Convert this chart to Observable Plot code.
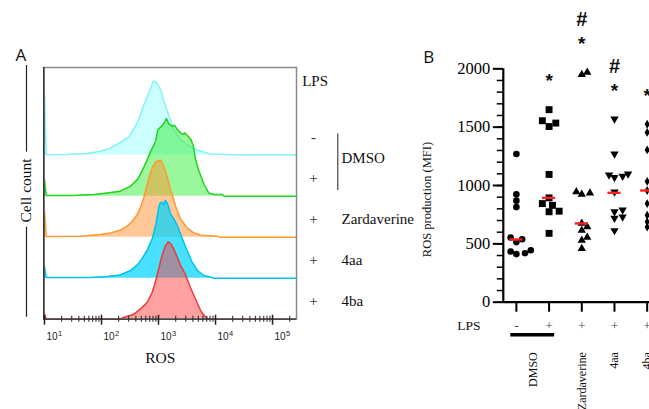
<!DOCTYPE html>
<html><head><meta charset="utf-8">
<script src="https://cdn.jsdelivr.net/npm/d3@7"></script>
<script src="https://cdn.jsdelivr.net/npm/@observablehq/plot@0.6"></script>
<style>
html,body{margin:0;padding:0;background:#fff;overflow:hidden}
#wrap{position:relative;width:649px;height:409px;overflow:hidden;background:#fff}
#wrap svg{position:absolute;top:0}
</style></head><body><div id="wrap"></div>
<script>
// ---------------- Panel A data: log10(ROS) vs relative cell count ----------------
const sampleNames = ["DMSO -LPS", "DMSO +LPS", "Zardaverine", "4aa", "4ba"];
const lpsSigns = ["-", "+", "+", "+", "+"];
const sampleTreatment = ["DMSO", "DMSO", "Zardaverine", "4aa", "4ba"];

const cyanLog   = [0.99,1.0,1.03,1.4,1.75,1.98,2.16,2.33,2.48,2.57,2.66,2.74,2.80,2.86,2.91,2.98,3.04,3.09,3.15,3.21,3.27,3.39,3.56,3.74,3.91,4.2,4.44,5.42];
const cyanCount = [0,61,0.5,0.7,1.7,4,7.3,12.7,18.3,26.7,36.7,50,58.3,66.7,74.3,71.7,65,55,45,35,25,15,8.3,4,1.3,0.7,0.3,0.3];

const greenLog   = [0.99,1.0,1.03,1.52,1.87,2.10,2.33,2.51,2.63,2.71,2.79,2.86,2.95,2.99,3.06,3.11,3.14,3.18,3.24,3.28,3.33,3.39,3.43,3.46,3.50,3.57,3.61,3.65,3.71,3.80,3.88,3.97,4.12,4.15,5.42];
const greenCount = [0,16.7,0.7,0.7,1.7,3.3,5,10,16.7,25,35,44.3,55,66.7,70,74.3,77.7,72.3,70,71,66.7,63.3,61.7,63.3,61,56.7,50,36.7,25,11.7,3.3,1.7,1.7,0,0];

const orangeLog   = [0.99,1.0,1.03,1.63,1.98,2.16,2.33,2.45,2.54,2.63,2.68,2.74,2.80,2.89,2.95,3.04,3.08,3.14,3.21,3.24,3.30,3.39,3.50,3.62,3.74,4.03,4.09,5.42];
const orangeCount = [0,26,0.7,1,2.7,4.3,7,11,16,22.7,29.3,39,52.7,69.4,75.4,77,72.7,62.7,47,43,31,17.7,9.4,4.4,2,1,0,0];

const blueLog   = [0.99,1.0,1.03,1.81,2.10,2.33,2.51,2.63,2.71,2.80,2.89,2.95,2.99,3.02,3.06,3.09,3.12,3.16,3.21,3.27,3.33,3.42,3.50,3.59,3.68,3.80,3.94,3.97,5.42];
const blueCount = [0,12,0.7,0.7,1.7,3.3,7.7,13.3,19.3,27.7,39.3,52.7,66,74.3,76,73.3,77.7,74.3,64.3,59.3,52.7,39.3,27.7,16,7.7,2.7,0.7,0,0];

const redLog   = [0.99,1.0,1.03,2.33,2.39,2.57,2.68,2.80,2.89,2.95,3.01,3.06,3.12,3.17,3.22,3.27,3.33,3.39,3.47,3.56,3.65,3.74,3.83,3.88,5.42];
const redCount = [0,5,0.3,0.3,1.7,5,10,16.7,26.7,38.3,51.7,63.3,73.3,77.3,75,70,61.7,53.3,45,31.7,20,8.3,1.7,0,0];

const decades = [1, 2, 3, 4, 5];

// ---------------- Panel B data: ROS production (MFI) ----------------
const groupLps = ["-", "+", "+", "+", "+"];
const treatments = ["DMSO", "Zardaverine", "4aa", "4ba"];
const treatmentGroups = [[0, 1], [2], [3], [4]];
const rosDmsoNoLps = [1270, 925, 870, 815, 555, 540, 515, 445, 435, 420, 412];
const rosDmsoLps   = [1650, 1555, 1535, 1505, 1095, 894, 845, 830, 780, 775, 590];
const rosZard      = [1970, 1950, 945, 935, 925, 675, 645, 615, 555, 530, 460];
const ros4aa       = [1570, 1270, 1100, 1090, 1080, 1070, 945, 790, 775, 730, 720, 614];
const ros4ba       = [1525, 1455, 1305, 1035, 957, 845, 745, 690, 670, 645];
const medians      = [537, 894, 675, 937, 957];
const annotGroup = [1, 2, 2, 3, 3, 4];
const annotText  = ["*", "*", "#", "*", "#", "*"];
const annotValue = [1943, 2260, 2414, 1857, 2014, 1814];

// ---------------- styles ----------------
const SERIF = "'Liberation Serif','Times New Roman',serif";
const SANS = "'Liberation Sans',Arial,sans-serif";
const LETTER = "'Open Sans','Noto Sans',sans-serif";
const wrap = document.getElementById("wrap");

// ================= Panel A =================
const tracks = [
  {log: cyanLog,   count: cyanCount,   stroke: "#86f4f4", fill: "#00ffff", op: 0.2},
  {log: greenLog,  count: greenCount,  stroke: "#1fd51f", fill: "#2bee2b", op: 0.47},
  {log: orangeLog, count: orangeCount, stroke: "#ff9a33", fill: "#ff912d", op: 0.5},
  {log: blueLog,   count: blueCount,   stroke: "#00c2ef", fill: "#00d4ff", op: 0.72},
  {log: redLog,    count: redCount,    stroke: "#ef3b3b", fill: "#ff3a3a", op: 0.48}
];
const STEP = 41;
const XMIN = 0.988, XMAX = 5.42;
const offsetOf = i => (tracks.length - 1 - i) * STEP;

const histMarks = [];
tracks.forEach((t, i) => {
  const off = offsetOf(i);
  const rows = t.log.map((x, j) => ({x, y1: off, y2: off + t.count[j]}));
  histMarks.push(Plot.areaY(rows, {x: "x", y1: "y1", y2: "y2", fill: t.fill, fillOpacity: t.op}));
  histMarks.push(Plot.lineY(rows, {x: "x", y: "y2", stroke: t.stroke, strokeWidth: 1.5}));
});

const minor = [];
for (let n = 0; n <= 5; n++) for (let k = 2; k <= 9; k++) {
  const v = n + Math.log10(k);
  if (v > XMIN && v < XMAX) minor.push(v);
}

const legendRows = sampleNames.map((s, i) => ({i, y: offsetOf(i) + 18, sign: lpsSigns[i], treat: sampleTreatment[i]}));

const chartA = Plot.plot({
  width: 420, height: 409,
  marginLeft: 43.3, marginRight: 420 - 296, marginTop: 67, marginBottom: 90.3,
  x: {domain: [XMIN, XMAX], axis: null},
  y: {domain: [0, 251.7], axis: null},
  style: {background: "transparent", overflow: "visible"},
  marks: [
    ...histMarks,
    Plot.frame({stroke: "#8a8a8a", strokeWidth: 1.5}),
    Plot.ruleX([XMIN], {stroke: "#333", strokeWidth: 1.5}),
    Plot.ruleY([0], {stroke: "#333", strokeWidth: 1.2}),
    Plot.ruleX(minor, {y1: -3, y2: 3, stroke: "#333", strokeWidth: 1.1}),
    Plot.ruleX(decades, {y1: -6, y2: 4, stroke: "#222", strokeWidth: 1.5}),
    Plot.text(decades, {x: d => d, y: 0, text: () => "10", dy: 18, dx: 2, textAnchor: "start", fontSize: 10, fontFamily: SANS, fill: "#222"}),
    Plot.text(decades, {x: d => d, y: 0, text: d => String(d), dy: 14, dx: 13.5, textAnchor: "start", fontSize: 7.5, fontFamily: SANS, fill: "#222"}),
    Plot.text(["ROS"], {x: 3.03, y: 0, dy: 39.3, fontSize: 15.5, fontFamily: SERIF, fill: "#111"}),
    // Cell count label with lines
    Plot.text(["Cell count"], {x: XMIN, y: 128.7, dx: -17.3, rotate: -90, fontSize: 15.5, fontFamily: SERIF, fill: "#111"}),
    Plot.ruleX([XMIN], {y1: 167, y2: 253.7, dx: -17.3, stroke: "#222", strokeWidth: 1.2}),
    Plot.ruleX([XMIN], {y1: 2, y2: 92, dx: -17.3, stroke: "#222", strokeWidth: 1.2}),
    // right-hand legend
    Plot.text(["LPS"], {x: XMAX, y: 238, dx: 5.7, textAnchor: "start", fontSize: 15, fontFamily: SERIF, fill: "#111"}),
    Plot.text(legendRows, {x: XMAX, y: "y", text: "sign", dx: 17, fontSize: 15, fontFamily: SERIF, fill: "#333"}),
    Plot.text(legendRows.filter(d => d.treat !== "DMSO"), {x: XMAX, y: "y", text: "treat", dx: 45, textAnchor: "start", fontSize: 15, fontFamily: SERIF, fill: "#111"}),
    Plot.text(["DMSO"], {x: XMAX, y: (offsetOf(0) + offsetOf(1)) / 2 + 18, dx: 45, textAnchor: "start", fontSize: 15, fontFamily: SERIF, fill: "#111"}),
    Plot.ruleX([XMAX], {y1: offsetOf(1) + 5.7, y2: offsetOf(0) + 21.4, dx: 41.3, stroke: "#333", strokeWidth: 1.1}),
    Plot.text(["A"], {frameAnchor: "top-left", dx: -23, dy: -12, textAnchor: "middle", lineAnchor: "middle", fontSize: 17, fontFamily: LETTER, fill: "#111"})
  ]
});
chartA.style.left = "0px";
wrap.appendChild(chartA);

// ================= Panel B =================
const groupsData = [rosDmsoNoLps, rosDmsoLps, rosZard, ros4aa, ros4ba];
const symbols = ["circle", "square", "triangle", "triangle", "diamond"];
const rotations = [0, 0, 0, 180, 0];
const radii = [3.3, 3.9, 3.1, 3.1, 2.7];

const BW = 280, BML = 102.8, XB0 = -0.4, PXU = 32.7;
const XB1 = XB0 + (BW - BML) / PXU;
const yPx = d3.scaleLinear([0, 2000], [301.7, 68.3]);

function dodge(values, r) {
  const placed = [];
  const offs = new Array(values.length);
  const order = values.map((v, i) => i).sort((a, b) => values[a] - values[b]);
  for (const i of order) {
    const y = yPx(values[i]);
    let best = 0;
    for (let k = 0; k < 30; k++) {
      const cand = k === 0 ? 0 : (k % 2 ? 1 : -1) * Math.ceil(k / 2) * r * 0.8;
      if (placed.every(p => Math.hypot(p.x - cand, p.y - y) >= 2 * r * 0.85)) { best = cand; break; }
    }
    placed.push({x: best, y});
    offs[i] = best;
  }
  return offs;
}

const dotMarks = groupsData.map((vals, g) => {
  const offs = dodge(vals, radii[g] + 0.3);
  const rows = vals.map((v, j) => ({x: g + offs[j] / PXU, v}));
  return Plot.dot(rows, {x: "x", y: "v", symbol: symbols[g], r: radii[g], rotate: rotations[g], fill: "#000", stroke: "none"});
});

const medianRows = medians.map((m, g) => ({g, m}));
const annotRows = annotText.map((t, i) => ({g: annotGroup[i], v: annotValue[i], t}));
const treatRows = treatments.map((t, i) => ({t, x: d3.mean(treatmentGroups[i])}));

const chartB = Plot.plot({
  width: BW, height: 409,
  marginLeft: BML, marginRight: 0, marginTop: 68.3, marginBottom: 107.3,
  x: {domain: [XB0, XB1], axis: null},
  y: {domain: [0, 2000]},
  style: {background: "transparent", overflow: "visible"},
  marks: [
    Plot.axisY(d3.range(0, 2001, 100), {tickSize: 6, tickFormat: () => "", strokeWidth: 1.5, label: null}),
    Plot.axisY([0, 500, 1000, 1500, 2000], {tickSize: 10, tickPadding: 3, fontSize: 16.5, fontFamily: SERIF, strokeWidth: 2, label: null, tickFormat: d => String(d)}),
    Plot.axisX([0, 1, 2, 3, 4], {tickSize: 10, tickFormat: () => "", strokeWidth: 2, label: null}),
    Plot.ruleX([XB0], {y1: 0, y2: 2000, stroke: "#000", strokeWidth: 2.2}),
    Plot.ruleY([0], {stroke: "#000", strokeWidth: 2.2}),
    ...dotMarks,
    Plot.ruleY(medianRows, {y: "m", x1: d => d.g - 0.2, x2: d => d.g + 0.2, stroke: "#ff2020", strokeWidth: 2.4}),
    Plot.text(annotRows.filter(d => d.t === "*"), {x: "g", y: "v", text: "t", dy: 5, fontSize: 19, fontWeight: "bold", fontFamily: SANS, fill: "#111"}),
    Plot.text(annotRows.filter(d => d.t === "#"), {x: "g", y: "v", text: "t", dy: -1, fontSize: 20, fontWeight: "bold", fontFamily: SANS, fill: "#111"}),
    Plot.text(["ROS production (MFI)"], {x: XB0, y: 880, dx: -76.2, rotate: -90, fontSize: 12.5, fontFamily: SERIF, fill: "#111"}),
    Plot.text(["LPS"], {x: XB0, y: 0, dx: -46, dy: 23.3, textAnchor: "start", fontSize: 13.5, fontFamily: SERIF, fill: "#111"}),
    Plot.text(groupLps, {x: (d, i) => i, y: 0, text: d => d, dy: 23.3, fontSize: 13.5, fontFamily: SERIF, fill: "#444"}),
    Plot.ruleY([0], {x1: treatmentGroups[0][0] - 0.17, x2: treatmentGroups[0][1] + 0.17, dy: 32.6, stroke: "#000", strokeWidth: 3.5}),
    Plot.text(treatRows, {x: "x", y: 0, text: "t", dy: 50, rotate: -90, textAnchor: "end", fontSize: 12, fontFamily: SERIF, fill: "#111"}),
    Plot.text(["B"], {frameAnchor: "top-left", dx: -74.5, dy: -11.6, textAnchor: "middle", lineAnchor: "middle", fontSize: 17, fontFamily: LETTER, fill: "#111"})
  ]
});
chartB.style.left = "400px";
wrap.appendChild(chartB);
</script></body></html>
